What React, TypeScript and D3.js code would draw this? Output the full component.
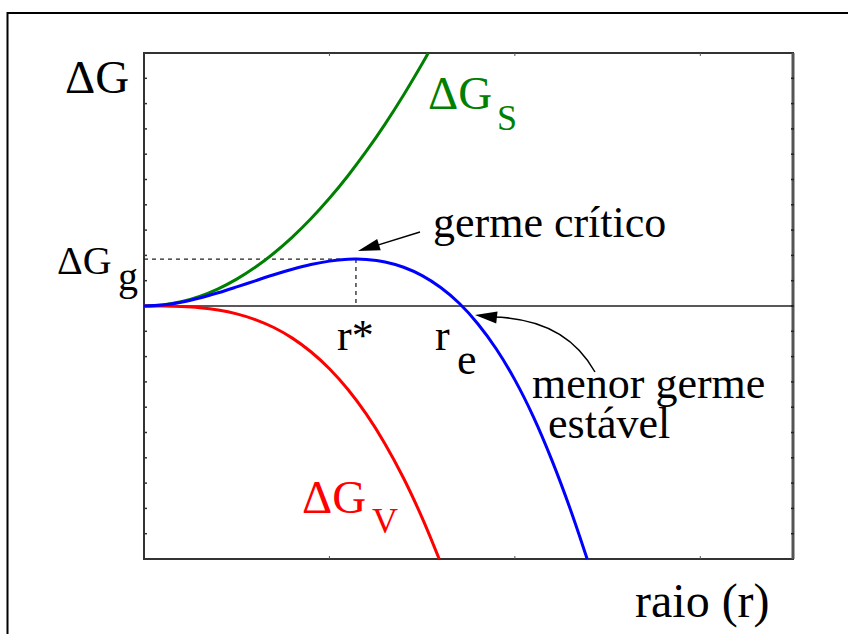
import React from "react";
import * as d3 from "d3";

// Radius samples (r) and free-energy terms for nucleation
const surfaceR = [0, 0.1, 0.2, 0.3, 0.4, 0.5, 0.6, 0.7, 0.8, 0.9, 1.0, 1.1, 1.2, 1.3, 1.4, 1.5, 1.533];
const surfaceG = [0, 0.043, 0.17, 0.383, 0.681, 1.064, 1.532, 2.085, 2.723, 3.447, 4.255, 5.149, 6.127, 7.191, 8.34, 9.574, 10.0];

const volumeR = [0, 0.1, 0.2, 0.3, 0.4, 0.5, 0.6, 0.7, 0.8, 0.9, 1.0, 1.1, 1.2, 1.3, 1.4, 1.5, 1.592];
const volumeG = [0, -0.002, -0.02, -0.067, -0.159, -0.31, -0.536, -0.851, -1.27, -1.809, -2.481, -3.302, -4.287, -5.451, -6.808, -8.373, -10.0];

const totalR = [0, 0.1, 0.2, 0.3, 0.4, 0.5, 0.6, 0.7, 0.8, 0.9, 1.0, 1.1, 1.143, 1.2, 1.3, 1.4, 1.5, 1.6, 1.7, 1.8, 1.9, 2.0, 2.1, 2.2, 2.3, 2.39];
const totalG = [0, 0.04, 0.15, 0.316, 0.522, 0.754, 0.996, 1.234, 1.453, 1.638, 1.774, 1.847, 1.854, 1.84, 1.74, 1.532, 1.201, 0.731, 0.108, -0.7, -1.7, -2.92, -4.38, -6.1, -8.05, -10.0];

// Critical nucleus: radius r* and barrier ΔGg
const criticalR = 1.143;
const criticalG = 1.854;

const xDomain = [0, 3.5];
const yDomain = [-10, 10];

const W = 848;
const H = 634;
const left = 144;
const right = 793;
const top = 53;
const bottom = 559;

const FONT = "'Liberation Serif', 'Times New Roman', serif";

export default function App() {
  const x = d3.scaleLinear().domain(xDomain).range([left, right]);
  const y = d3.scaleLinear().domain(yDomain).range([bottom, top]);

  const line = d3
    .line<[number, number]>()
    .x((d) => x(d[0]))
    .y((d) => y(d[1]))
    .curve(d3.curveCatmullRom);

  const zip = (a: number[], b: number[]) => a.map((v, i) => [v, b[i]] as [number, number]);

  const yTicks = d3.range(yDomain[0] + 1, yDomain[1], 1);
  const xTicks = x.ticks(3).filter((t) => t > 0 && t < xDomain[1]);

  const peakX = x(criticalR);
  const peakY = y(criticalG);
  const zeroY = y(0);

  // arrow heads
  const head = (tx: number, ty: number, fx: number, fy: number, len = 20, half = 6) => {
    const a = Math.atan2(ty - fy, tx - fx);
    const bx = tx - len * Math.cos(a);
    const by = ty - len * Math.sin(a);
    const px = -Math.sin(a) * half;
    const py = Math.cos(a) * half;
    return `M${tx},${ty}L${bx + px},${by + py}L${bx - px},${by - py}Z`;
  };

  return (
    <svg
      width={W}
      height={H}
      style={{ position: "absolute", left: 0, top: 0, background: "#fff" }}
      fontFamily={FONT}
    >
      {/* outer frame */}
      <rect x={7.5} y={13} width={W + 20} height={H + 20} fill="none" stroke="#000" strokeWidth={2} />

      {/* plot box */}
      <rect x={left} y={top} width={right - left} height={bottom - top} fill="none" stroke="#333" strokeWidth={2} />
      <line x1={right} x2={right} y1={top} y2={bottom} stroke="#555" strokeWidth={3} />

      {/* ticks */}
      {yTicks.map((t) => (
        <g key={"y" + t}>
          <line x1={left} x2={left + 3} y1={y(t)} y2={y(t)} stroke="#333" strokeWidth={1.5} />
          <line x1={right - 2} x2={right + 1} y1={y(t)} y2={y(t)} stroke="#222" strokeWidth={1.5} />
        </g>
      ))}
      {xTicks.map((t) => (
        <g key={"x" + t}>
          <line x1={x(t)} x2={x(t)} y1={bottom} y2={bottom - 3} stroke="#555" strokeWidth={1} />
          <line x1={x(t)} x2={x(t)} y1={top} y2={top + 3} stroke="#555" strokeWidth={1} />
        </g>
      ))}

      {/* zero line */}
      <line x1={left} x2={right} y1={zeroY} y2={zeroY} stroke="#222" strokeWidth={1.5} />

      {/* dashed guides to the critical nucleus */}
      <line x1={left} x2={peakX} y1={peakY} y2={peakY} stroke="#222" strokeWidth={1.3} strokeDasharray="4,4" />
      <line x1={peakX} x2={peakX} y1={peakY} y2={zeroY} stroke="#222" strokeWidth={1.3} strokeDasharray="4,4" />

      {/* curves */}
      <path d={line(zip(surfaceR, surfaceG)) || ""} fill="none" stroke="#008000" strokeWidth={3} />
      <path d={line(zip(volumeR, volumeG)) || ""} fill="none" stroke="#ff0000" strokeWidth={3} />
      <path d={line(zip(totalR, totalG)) || ""} fill="none" stroke="#0000ff" strokeWidth={3} />

      {/* arrow: germe crítico */}
      <line x1={420} y1={232} x2={peakX + 12} y2={peakY - 11} stroke="#000" strokeWidth={1.5} />
      <path d={head(peakX + 2, peakY - 8, 420, 232, 22, 6)} fill="#000" />

      {/* arrow: menor germe estável */}
      <path d={`M595,372 Q565,318 ${x(1.715) + 30},${zeroY + 11}`} fill="none" stroke="#000" strokeWidth={1.5} />
      <path d={head(x(1.715) + 13, zeroY + 9, x(1.715) + 40, zeroY + 12, 22, 6)} fill="#000" />

      {/* labels */}
      <text x={65} y={93} fontSize={47} fill="#000">ΔG</text>

      <text x={57} y={274} fontSize={40} fill="#000">ΔG</text>
      <text x={118} y={290} fontSize={40} fill="#000">g</text>

      <text x={428} y={109} fontSize={47} fill="#008000">ΔG</text>
      <text x={497} y={130} fontSize={36} fill="#008000">S</text>

      <text x={302} y={513} fontSize={47} fill="#ff0000">ΔG</text>
      <text x={372} y={533} fontSize={36} fill="#ff0000">V</text>

      <text x={433} y={237} fontSize={44} fill="#000">germe crítico</text>

      <text x={337} y={350} fontSize={44} fill="#000">r*</text>
      <text x={435} y={350} fontSize={44} fill="#000">r</text>
      <text x={457} y={374} fontSize={44} fill="#000">e</text>

      <text x={532} y={398} fontSize={44} fill="#000">menor germe</text>
      <text x={548} y={438} fontSize={44} fill="#000">estável</text>

      <text x={635} y={617} fontSize={48} fill="#000">raio (r)</text>
    </svg>
  );
}
